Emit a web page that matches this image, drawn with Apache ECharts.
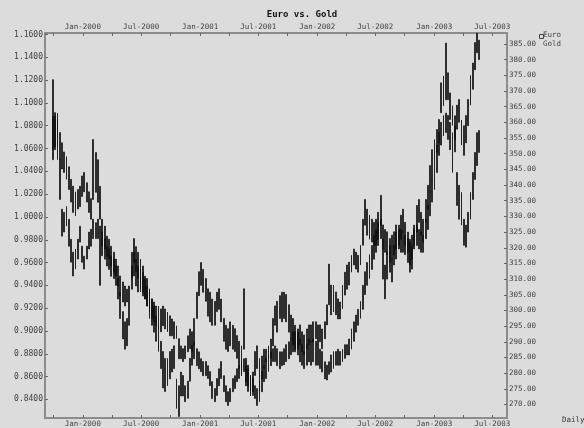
<!DOCTYPE html>
<html>
<head>
<meta charset="utf-8">
<script src="https://cdn.jsdelivr.net/npm/echarts@6/dist/echarts.min.js"></script>
<style>
  html, body { margin: 0; padding: 0; background: #dcdcdc; }
  #chart { width: 584px; height: 428px; }
</style>
</head>
<body>
<div id="chart"></div>
<script>
// Weekly price ranges, first week starting 30 Sep 1999
const firstWeek = Date.UTC(1999, 8, 30);

// EUR/USD weekly high / low
const euroHigh = [
  1.088,1.088,1.091,1.074,1.065,1.057,1.053,1.044,1.033,1.027,
  1.022,1.024,1.027,1.036,1.039,1.030,1.022,1.016,0.998,0.995,
  0.998,0.992,0.987,0.981,0.974,0.972,0.966,0.963,0.957,0.946,
  0.934,0.917,0.908,0.911,0.928,0.969,0.981,0.974,0.969,0.963,
  0.957,0.948,0.946,0.937,0.928,0.922,0.913,0.905,0.891,0.882,
  0.876,0.876,0.882,0.884,0.887,0.858,0.852,0.864,0.861,0.852,
  0.856,0.876,0.887,0.911,0.934,0.952,0.960,0.954,0.946,0.937,
  0.934,0.928,0.926,0.934,0.937,0.928,0.911,0.905,0.902,0.908,
  0.905,0.902,0.896,0.891,0.887,0.937,0.876,0.870,0.861,0.864,
  0.882,0.887,0.876,0.878,0.884,0.884,0.887,0.893,0.911,0.922,
  0.926,0.931,0.934,0.934,0.932,0.923,0.914,0.911,0.905,0.899,
  0.893,0.888,0.882,0.888,0.893,0.891,0.893,0.891,0.888,0.884,
  0.882,0.873,0.870,0.873,0.879,0.882,0.882,0.884,0.882,0.884,
  0.888,0.888,0.893,0.902,0.908,0.914,0.919,0.926,0.940,0.952,
  0.960,0.967,0.975,0.984,0.989,0.995,0.998,0.993,0.989,0.987,
  0.981,0.984,0.987,0.993,0.989,0.989,0.987,0.984,0.981,0.978,
  0.984,0.989,0.993,0.989,0.987,0.984,0.998,1.010,1.022,1.033,
  1.045,1.063,1.074,1.083,1.089,1.091,1.089,1.083,1.074,1.080,
  1.098,1.103,1.085,1.080,1.089,1.103,1.124,1.135,1.153,1.161,
  1.155
];
const euroLow = [
  1.059,1.059,1.062,1.050,1.042,1.039,1.033,1.024,1.013,1.004,
  1.001,1.007,1.009,1.018,1.022,1.013,1.004,0.998,0.981,0.981,
  0.981,0.940,0.966,0.963,0.957,0.954,0.948,0.946,0.940,0.928,
  0.911,0.893,0.884,0.887,0.905,0.946,0.960,0.952,0.946,0.937,
  0.934,0.928,0.922,0.911,0.905,0.899,0.891,0.882,0.867,0.850,
  0.847,0.852,0.858,0.864,0.867,0.832,0.825,0.843,0.843,0.838,
  0.841,0.856,0.870,0.887,0.911,0.931,0.940,0.934,0.926,0.913,
  0.908,0.905,0.905,0.917,0.919,0.908,0.891,0.884,0.882,0.887,
  0.884,0.882,0.876,0.867,0.861,0.884,0.852,0.847,0.843,0.847,
  0.861,0.867,0.847,0.858,0.867,0.873,0.876,0.876,0.887,0.905,
  0.899,0.911,0.908,0.911,0.908,0.899,0.893,0.888,0.884,0.879,
  0.873,0.870,0.867,0.870,0.873,0.870,0.873,0.870,0.870,0.867,
  0.864,0.858,0.857,0.862,0.864,0.867,0.870,0.870,0.870,0.873,
  0.876,0.879,0.879,0.884,0.891,0.899,0.905,0.911,0.919,0.932,
  0.940,0.946,0.954,0.963,0.969,0.975,0.981,0.972,0.969,0.967,
  0.960,0.963,0.967,0.972,0.972,0.969,0.969,0.967,0.960,0.958,
  0.963,0.972,0.975,0.972,0.969,0.969,0.981,0.989,1.001,1.013,
  1.024,1.039,1.054,1.063,1.071,1.074,1.068,1.059,1.039,1.057,
  1.077,1.083,1.063,1.054,1.065,1.080,1.098,1.112,1.129,1.144,
  1.138
];

// Gold (USD/oz) weekly high / low
const goldHigh = [
  373.6,363.1,360.9,348.1,332.3,331.3,333.2,329.1,322.7,318.6,
  319.6,322.7,326.9,320.5,317.3,320.5,325.0,325.9,354.5,350.4,
  348.1,339.6,329.1,326.9,323.7,322.7,320.5,318.6,316.4,314.2,
  311.0,309.1,307.8,306.8,307.8,314.2,318.6,316.4,314.2,313.2,
  312.2,310.0,307.8,305.9,303.7,302.7,301.4,301.4,300.5,301.4,
  300.5,299.5,298.3,297.3,296.4,295.1,291.0,288.7,287.8,288.7,
  291.9,294.1,293.2,290.0,287.8,286.8,284.6,283.7,283.7,282.4,
  280.5,277.3,275.1,278.3,281.4,283.7,279.2,276.0,274.1,275.1,
  278.3,279.2,281.4,282.4,283.7,284.6,282.4,281.4,279.2,278.3,
  276.0,275.1,277.3,280.5,282.4,284.6,285.6,286.8,287.8,288.7,
  287.8,286.8,286.8,287.8,289.1,290.0,291.0,293.2,293.2,294.1,
  295.4,293.2,292.2,294.1,295.4,295.4,296.4,296.4,295.4,295.4,
  294.1,296.4,301.8,314.8,308.1,308.1,305.9,303.7,302.7,308.1,
  312.2,314.5,315.4,317.6,319.6,318.6,317.6,320.8,329.1,335.4,
  332.3,330.4,329.1,328.1,329.1,331.3,336.7,322.7,314.5,318.6,
  320.8,316.4,320.8,325.0,327.2,330.4,332.3,328.1,325.0,322.7,
  320.8,327.2,333.5,335.4,331.3,329.1,335.4,339.9,346.2,351.3,
  354.5,357.7,360.9,372.6,374.8,385.3,375.8,369.4,365.3,362.1,
  344.0,339.9,337.7,329.1,327.2,331.3,337.7,344.0,350.4,356.7,
  357.4
];
const goldLow = [
  348.1,352.3,348.1,335.4,323.7,325.0,326.9,320.5,315.4,311.0,
  313.2,316.4,321.8,315.4,313.2,316.4,319.6,320.5,335.4,337.7,
  334.5,329.1,320.5,319.6,317.3,316.4,314.2,312.2,311.0,307.8,
  304.6,302.7,301.4,302.7,303.7,306.8,311.0,307.8,305.9,305.9,
  304.6,303.7,301.4,299.5,297.3,296.4,295.1,294.1,293.2,295.1,
  294.1,293.2,291.9,291.9,291.0,291.0,284.6,284.6,283.7,284.6,
  286.8,287.8,286.8,284.6,282.4,281.4,280.5,279.2,279.2,278.3,
  276.0,271.9,270.9,272.9,276.0,278.3,274.1,270.9,269.7,270.9,
  274.1,275.1,277.3,278.3,279.2,280.5,277.3,276.0,274.1,272.9,
  271.9,269.7,270.9,274.1,277.3,278.3,280.5,282.4,283.7,283.7,
  282.4,281.4,282.4,282.7,283.7,284.6,285.9,286.8,286.8,287.8,
  289.1,286.8,285.9,287.8,289.1,290.0,290.0,291.0,289.1,290.0,
  287.8,291.0,295.4,301.8,298.6,299.5,298.6,297.3,297.3,300.5,
  304.9,306.8,308.1,312.2,314.5,313.2,312.2,314.5,320.8,327.2,
  324.0,322.7,321.8,320.8,320.8,322.7,327.2,310.0,303.7,310.0,
  312.2,309.1,314.5,316.4,320.8,322.7,325.0,320.8,318.6,312.2,
  313.2,320.8,325.0,328.1,324.0,321.8,328.1,332.3,337.7,341.8,
  346.2,350.4,353.5,363.1,365.3,367.2,367.2,360.9,359.0,354.5,
  333.5,329.1,327.2,320.8,320.2,325.0,329.1,335.4,341.8,346.2,
  350.4
];

// Axis tick values
const euroTicks = [0.84,0.86,0.88,0.90,0.92,0.94,0.96,0.98,1.00,1.02,1.04,1.06,1.08,1.10,1.12,1.14,1.16];
const goldTicks = [270,275,280,285,290,295,300,305,310,315,320,325,330,335,340,345,350,355,360,365,370,375,380,385];
const dateLabels = ['2000-01-01','2000-07-01','2001-01-01','2001-07-01','2002-01-01','2002-07-01','2003-01-01','2003-07-01'];
const quarterTicks = ['1999-10-01','2000-01-01','2000-04-01','2000-07-01','2000-10-01','2001-01-01','2001-04-01','2001-07-01',
  '2001-10-01','2002-01-01','2002-04-01','2002-07-01','2002-10-01','2003-01-01','2003-04-01','2003-07-01'];
const monthNames = ['Jan','Feb','Mar','Apr','May','Jun','Jul','Aug','Sep','Oct','Nov','Dec'];

const DAY = 86400000;
const toMs = s => Date.parse(s + 'T00:00:00Z');
const weekTime = i => firstWeek + i * 7 * DAY;

const mono = "'DejaVu Sans Mono', 'Liberation Mono', monospace";
const axisGrey = '#8c8c8c';
const ink = '#101010';

function dateAxis(position) {
  return {
    type: 'value',
    position: position,
    min: Date.UTC(1999, 8, 5),
    max: Date.UTC(2003, 7, 16),
    scale: true,
    axisLine: { show: true, onZero: false, lineStyle: { color: axisGrey, width: 2 } },
    axisTick: { show: true, inside: true, length: 3, customValues: quarterTicks.map(toMs), lineStyle: { color: '#666', width: 1 } },
    axisLabel: {
      show: true,
      customValues: dateLabels.map(toMs),
      margin: 2,
      fontFamily: mono,
      fontSize: 7.5,
      color: '#404040',
      formatter: v => {
        const d = new Date(v);
        return monthNames[d.getUTCMonth()] + '-' + d.getUTCFullYear();
      }
    },
    splitLine: { show: false }
  };
}

function candles(name, lows, highs, xi, yi) {
  return {
    type: 'candlestick',
    name: name,
    xAxisIndex: xi,
    yAxisIndex: yi,
    data: lows.map((lo, i) => [weekTime(i), lo, highs[i], lo, highs[i]]),
    encode: { x: 0, y: [1, 2, 3, 4] },
    barWidth: 1.4,
    itemStyle: { color: ink, color0: ink, borderColor: ink, borderColor0: ink, borderWidth: 0.7 },
    silent: true
  };
}

const chart = echarts.init(document.getElementById('chart'), null, { renderer: 'canvas' });
chart.setOption({
  animation: false,
  backgroundColor: '#dcdcdc',
  title: {
    text: 'Euro vs. Gold',
    left: 297,
    top: 5,
    textAlign: 'center',
    textStyle: { fontFamily: mono, fontSize: 9, fontWeight: 'bold', color: '#111' }
  },
  grid: { left: 45, right: 77, top: 33, bottom: 8.5, containLabel: false },
  xAxis: [dateAxis('top'), dateAxis('bottom')],
  yAxis: [
    {
      type: 'value',
      position: 'left',
      min: 0.8237,
      max: 1.1613,
      axisLine: { show: true, onZero: false, lineStyle: { color: axisGrey, width: 2 } },
      axisTick: { show: true, inside: true, length: 3, customValues: euroTicks, lineStyle: { color: '#666' } },
      axisLabel: {
        customValues: euroTicks,
        margin: 2,
        fontFamily: mono,
        fontSize: 8,
        color: '#404040',
        formatter: v => v.toFixed(4)
      },
      splitLine: { show: false }
    },
    {
      type: 'value',
      position: 'right',
      min: 265.7,
      max: 388.5,
      axisLine: { show: true, onZero: false, lineStyle: { color: axisGrey, width: 2 } },
      axisTick: { show: true, inside: true, length: 3, customValues: goldTicks, lineStyle: { color: '#666' } },
      axisLabel: {
        customValues: goldTicks,
        margin: 2,
        fontFamily: mono,
        fontSize: 7.5,
        color: '#404040',
        formatter: v => v.toFixed(2)
      },
      splitLine: { show: false }
    }
  ],
  series: [
    candles('Euro', euroLow, euroHigh, 1, 0),
    candles('Gold', goldLow, goldHigh, 1, 1)
  ],
  graphic: [
    { type: 'rect', left: 537, top: 32, shape: { width: 4, height: 4 }, style: { fill: 'none', stroke: '#444', lineWidth: 1 } },
    { type: 'text', left: 543, top: 31, style: { text: 'Euro', font: '7.5px ' + mono, fill: '#444' } },
    { type: 'text', left: 543, top: 40, style: { text: 'Gold', font: '7.5px ' + mono, fill: '#444' } },
    { type: 'text', left: 562, top: 416, style: { text: 'Daily', font: '7.5px ' + mono, fill: '#333' } }
  ]
});
</script>
</body>
</html>
